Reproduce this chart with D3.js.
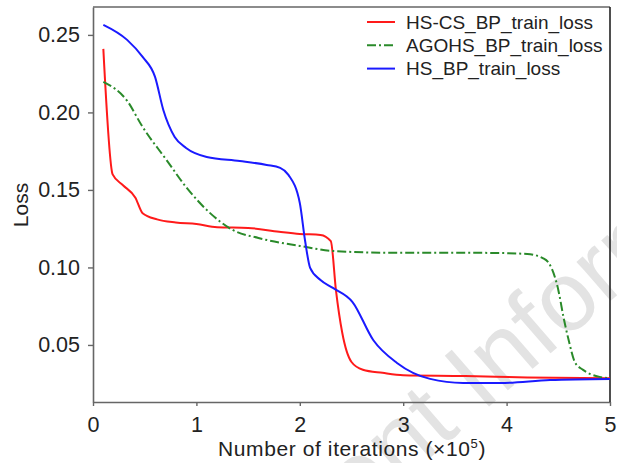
<!DOCTYPE html>
<html>
<head>
<meta charset="utf-8">
<script src="https://cdn.jsdelivr.net/npm/d3@7"></script>
<style>
  body { margin: 0; background: #fff; }
  svg { display: block; font-family: "Liberation Sans", Arial, sans-serif; }
</style>
</head>
<body>
<div id="chart"></div>
<script>

// HS-CS_BP_train_loss (red)
var hsCsX    = [0.1, 0.19, 0.29, 0.41, 0.48, 0.62, 0.8, 1.0, 1.2, 1.5, 1.8, 2.0, 2.2, 2.3, 2.35, 2.41, 2.5, 2.61, 2.8, 3.0, 3.6, 4.2, 5.0];
var hsCsLoss = [0.241, 0.160, 0.153, 0.145, 0.135, 0.131, 0.129, 0.128, 0.126, 0.1255, 0.123, 0.1216, 0.121, 0.117, 0.085, 0.058, 0.039, 0.034, 0.032, 0.0305, 0.030, 0.029, 0.0285];

// AGOHS_BP_train_loss (green, dash-dot)
var agoX    = [0.1, 0.33, 0.48, 0.71, 0.9, 1.13, 1.35, 1.6, 2.0, 2.32, 2.97, 3.77, 4.2, 4.35, 4.42, 4.5, 4.55, 4.6, 4.66, 4.74, 4.9, 5.0];
var agoLoss = [0.2197, 0.2075, 0.1906, 0.1694, 0.1519, 0.1352, 0.1242, 0.1190, 0.1139, 0.1106, 0.1094, 0.1094, 0.1087, 0.106, 0.1016, 0.0855, 0.068, 0.0532, 0.039, 0.0339, 0.0294, 0.0285];

// HS_BP_train_loss (blue)
var hsX    = [0.1, 0.33, 0.48, 0.6, 0.68, 0.79, 0.9, 1.1, 1.42, 1.68, 1.81, 1.89, 2.0, 2.05, 2.1, 2.2, 2.32, 2.51, 2.71, 2.94, 3.26, 3.58, 3.94, 4.42, 5.0];
var hsLoss = [0.2565, 0.2468, 0.2358, 0.2229, 0.2016, 0.1842, 0.1771, 0.1713, 0.1687, 0.1661, 0.1642, 0.1597, 0.1416, 0.1177, 0.0997, 0.0919, 0.0868, 0.0777, 0.0532, 0.0384, 0.0281, 0.0255, 0.0255, 0.0274, 0.0281];

var xTicks = [0, 1, 2, 3, 4, 5];
var yTicks = [0.05, 0.10, 0.15, 0.20, 0.25];

var seriesNames = ["HS-CS_BP_train_loss", "AGOHS_BP_train_loss", "HS_BP_train_loss"];

var W = 617, H = 463;
var margin = {top: 7, right: 7, bottom: 61, left: 93};
var width = W - margin.left - margin.right,
    height = H - margin.top - margin.bottom;

var svg = d3.select("#chart").append("svg")
  .attr("width", W)
  .attr("height", H);

// faint watermark in the background
var wm = svg.append("text")
  .attr("transform", "translate(400,484) rotate(-41)")
  .attr("font-size", 98)
  .attr("fill", "#e3e3e3")
  .text("Patent Information");
wm.attr("x", -wm.node().getSubStringLength(0, 4));

var g = svg.append("g")
  .attr("transform", "translate(" + margin.left + "," + margin.top + ")");

var x = d3.scaleLinear().domain([0, 5]).range([0, width]);
var y = d3.scaleLinear().domain([0.0132, 0.268]).range([height, 0]);

g.append("clipPath").attr("id", "plotclip")
  .append("rect").attr("width", width).attr("height", height);

// axes
var xAxis = g.append("g")
  .attr("transform", "translate(0," + height + ")")
  .call(d3.axisBottom(x).tickValues(xTicks).tickFormat(d3.format("d")).tickSizeInner(4).tickSizeOuter(0).tickPadding(11));

var yAxis = g.append("g")
  .call(d3.axisLeft(y).tickValues(yTicks).tickFormat(d3.format(".2f")).tickSizeInner(5).tickSizeOuter(0).tickPadding(8));

[xAxis, yAxis].forEach(function(a) {
  a.selectAll("path").attr("stroke", "#666").attr("stroke-width", 1.6);
  a.selectAll("line").attr("stroke", "#666").attr("stroke-width", 1.4);
  a.selectAll("text").attr("fill", "#222").attr("font-size", 21.5)
    .attr("font-family", "'Liberation Sans', Arial, sans-serif");
});

// top and right frame
g.append("line").attr("x1", 0).attr("x2", width).attr("y1", 0).attr("y2", 0)
  .attr("stroke", "#666").attr("stroke-width", 1.6);
g.append("line").attr("x1", width).attr("x2", width).attr("y1", 0).attr("y2", height)
  .attr("stroke", "#222").attr("stroke-width", 1.6);

// lines
var line = d3.line()
  .x(function(d) { return x(d[0]); })
  .y(function(d) { return y(d[1]); })
  .curve(d3.curveMonotoneX);

var series = [
  {xs: hsCsX, ys: hsCsLoss, color: "#ff1a1a", dash: null},
  {xs: agoX, ys: agoLoss, color: "#2a8a2a", dash: "9,3,2,3"},
  {xs: hsX, ys: hsLoss, color: "#1a1aff", dash: null}
];

var plot = g.append("g").attr("clip-path", "url(#plotclip)");

series.forEach(function(s) {
  plot.append("path")
    .datum(d3.zip(s.xs, s.ys))
    .attr("fill", "none")
    .attr("stroke", s.color)
    .attr("stroke-width", 2)
    .attr("stroke-dasharray", s.dash)
    .attr("d", line);
});

// legend
var legend = svg.append("g").attr("transform", "translate(367,22)");
series.forEach(function(s, i) {
  var row = legend.append("g").attr("transform", "translate(0," + (i * 23.3) + ")");
  row.append("line")
    .attr("x1", 0).attr("x2", 28)
    .attr("stroke", s.color)
    .attr("stroke-width", 2)
    .attr("stroke-dasharray", s.dash);
  row.append("text")
    .attr("x", 39).attr("y", 6.5)
    .attr("font-size", 19)
    .attr("fill", "#222")
    .text(seriesNames[i]);
});

// axis titles
svg.append("text")
  .attr("transform", "translate(28,205) rotate(-90)")
  .attr("text-anchor", "middle")
  .attr("font-size", 21)
  .attr("fill", "#222")
  .text("Loss");

var xt = svg.append("text")
  .attr("x", 352).attr("y", 456)
  .attr("text-anchor", "middle")
  .attr("font-size", 21)
  .attr("letter-spacing", 0.6)
  .attr("fill", "#222");
xt.append("tspan").text("Number of iterations (×10");
xt.append("tspan").attr("dy", -8).attr("font-size", 13).text("5");
xt.append("tspan").attr("dy", 8).text(")");

</script>
</body>
</html>
